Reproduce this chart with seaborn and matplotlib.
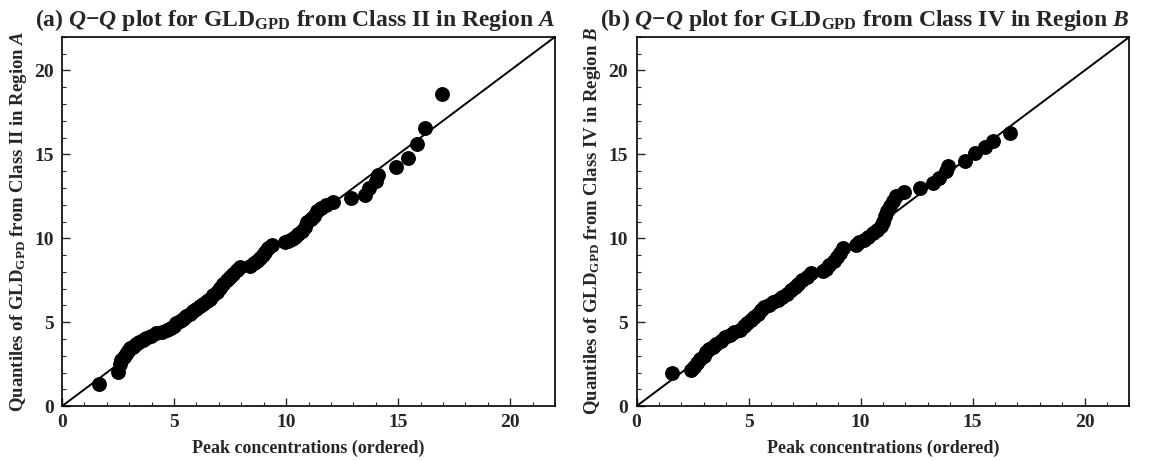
import matplotlib
matplotlib.use("Agg")
import matplotlib.pyplot as plt
from matplotlib.ticker import MultipleLocator
import seaborn as sns
import pandas as pd

# Panel (a): Class II, Region A
peak_a = [1.65, 2.5, 2.6, 2.65, 2.75, 2.85, 2.95, 3.05, 3.15, 3.3, 3.45, 3.6, 3.75, 3.95,
          4.2, 4.45, 4.7, 4.85, 5.0, 5.1, 5.25, 5.4, 5.55, 5.7, 5.85, 6.0, 6.15, 6.3, 6.45,
          6.6, 6.75, 6.9, 7.05, 7.2, 7.35, 7.5, 7.65, 7.8, 7.95, 8.4, 8.55, 8.7, 8.85, 8.95,
          9.05, 9.2, 9.35, 9.95, 10.1, 10.25, 10.4, 10.55, 10.7, 10.85, 10.95, 11.1, 11.25,
          11.4, 11.55, 11.8, 12.1, 12.9, 13.5, 13.7, 14.0, 14.1, 14.9, 15.45, 15.85, 16.2, 16.95]
quant_a = [1.3, 2.05, 2.5, 2.75, 2.95, 3.1, 3.3, 3.45, 3.55, 3.7, 3.85, 3.95, 4.05, 4.2,
           4.35, 4.4, 4.55, 4.65, 4.8, 4.95, 5.1, 5.2, 5.35, 5.5, 5.65, 5.8, 5.95, 6.1, 6.25,
           6.4, 6.6, 6.8, 7.05, 7.3, 7.5, 7.7, 7.9, 8.1, 8.3, 8.35, 8.5, 8.65, 8.8, 9.0,
           9.2, 9.4, 9.6, 9.75, 9.85, 9.95, 10.1, 10.25, 10.45, 10.7, 10.95, 11.15, 11.35,
           11.6, 11.8, 12.0, 12.15, 12.4, 12.6, 13.0, 13.4, 13.8, 14.25, 14.8, 15.6, 16.6, 18.6]

# Panel (b): Class IV, Region B
peak_b = [1.6, 2.45, 2.55, 2.7, 2.85, 3.0, 3.1, 3.25, 3.4, 3.55, 3.75, 3.95, 4.15, 4.35,
          4.6, 4.8, 4.95, 5.1, 5.25, 5.4, 5.55, 5.7, 5.9, 6.1, 6.3, 6.5, 6.7, 6.9, 7.05,
          7.2, 7.4, 7.6, 7.8, 8.3, 8.45, 8.6, 8.8, 8.95, 9.1, 9.2, 9.8, 9.95, 10.15, 10.35,
          10.55, 10.75, 10.9, 11.0, 11.1, 11.2, 11.3, 11.45, 11.6, 11.95, 12.65, 13.25, 13.5,
          13.8, 13.9, 14.65, 15.1, 15.55, 15.9, 16.65]
quant_b = [2.0, 2.15, 2.35, 2.6, 2.8, 3.0, 3.2, 3.4, 3.55, 3.7, 3.9, 4.1, 4.25, 4.4,
           4.55, 4.75, 4.95, 5.15, 5.3, 5.5, 5.7, 5.9, 6.05, 6.2, 6.35, 6.5, 6.7, 6.9, 7.1,
           7.3, 7.5, 7.7, 7.95, 8.05, 8.2, 8.4, 8.65, 8.9, 9.15, 9.45, 9.6, 9.75, 9.9, 10.1,
           10.3, 10.5, 10.75, 11.0, 11.3, 11.6, 11.9, 12.2, 12.5, 12.75, 13.0, 13.3, 13.6,
           14.0, 14.3, 14.6, 15.1, 15.45, 15.8, 16.3]

titles = [r"(a) $Q$−$Q$ plot for GLD$_{\mathrm{GPD}}$ from Class II in Region $A$",
          r"(b) $Q$−$Q$ plot for GLD$_{\mathrm{GPD}}$ from Class IV in Region $B$"]
ylabels = [r"Quantiles of GLD$_{\mathrm{GPD}}$ from Class II in Region $A$",
           r"Quantiles of GLD$_{\mathrm{GPD}}$ from Class IV in Region $B$"]
xlabel = "Peak concentrations (ordered)"

sns.set_style("white")
plt.rcParams["font.family"] = ["Liberation Serif", "DejaVu Serif"]
plt.rcParams["font.weight"] = "bold"
plt.rcParams["mathtext.fontset"] = "custom"
plt.rcParams["mathtext.rm"] = "Liberation Serif:bold"
plt.rcParams["mathtext.it"] = "Liberation Serif:bold:italic"
plt.rcParams["mathtext.bf"] = "Liberation Serif:bold"

fig = plt.figure(figsize=(11.49, 4.61), dpi=100)
ax1 = fig.add_axes([0.054, 0.119, 0.429, 0.801])
ax2 = fig.add_axes([0.554, 0.119, 0.429, 0.801])

data = [(peak_a, quant_a), (peak_b, quant_b)]
for i, ax in enumerate([ax1, ax2]):
    df = pd.DataFrame({"peak": data[i][0], "quant": data[i][1]})
    ax.axline((0, 0), slope=1, color="black", lw=1.4, zorder=1)
    sns.scatterplot(data=df, x="peak", y="quant", ax=ax, color="black", s=115,
                    edgecolor="black", linewidth=0, zorder=2)
    ax.set_xlim(0, 22)
    ax.set_ylim(0, 22)
    ax.xaxis.set_major_locator(MultipleLocator(5))
    ax.yaxis.set_major_locator(MultipleLocator(5))
    ax.xaxis.set_minor_locator(MultipleLocator(1))
    ax.yaxis.set_minor_locator(MultipleLocator(1))
    ax.tick_params(which="major", direction="in", length=6, width=1, labelsize=14,
                   pad=6, bottom=True, left=True, top=False, right=False)
    ax.tick_params(which="minor", direction="in", length=3, width=0.8,
                   bottom=True, left=True, top=False, right=False)
    for lab in ax.get_xticklabels() + ax.get_yticklabels():
        lab.set_fontweight("bold")
    for sp in ax.spines.values():
        sp.set_color("black")
        sp.set_linewidth(1.2)
    ax.set_title(titles[i], fontsize=17, fontweight="bold", pad=8, loc="right")
    ax.set_xlabel(xlabel, fontsize=13, fontweight="bold", labelpad=6)
    ax.set_ylabel(ylabels[i], fontsize=13.5, fontweight="bold", labelpad=4)

fig.savefig("out.png", dpi=100)
